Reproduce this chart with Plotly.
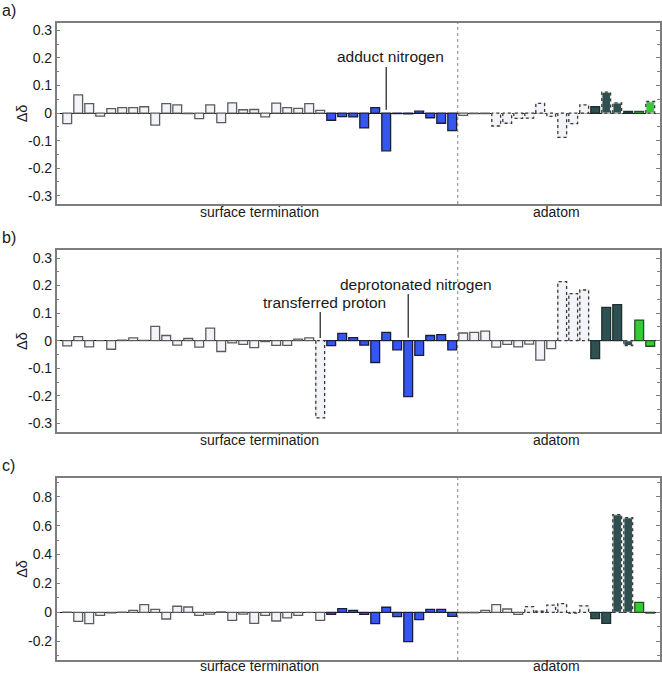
import plotly.graph_objects as go

W, H = 662, 677
N = 54
positions = list(range(N))

# category of each position (same in every panel)
groups = ["surface"] * 24 + ["molecule"] * 12 + ["adatom"] * 12 + ["adatom_dark"] * 4 + ["adatom_green"] * 2

a_vals = [-0.038, 0.066, 0.034, -0.011, 0.016, 0.020, 0.020, 0.023, -0.044, 0.034,
          0.030, -0.002, -0.020, 0.030, -0.035, 0.037, 0.012, 0.013, -0.014, 0.036,
          0.020, 0.017, 0.034, 0.010, -0.026, -0.013, -0.014, -0.054, 0.020, -0.137,
          -0.002, -0.003, 0.007, -0.017, -0.037, -0.064, -0.008, -0.002, -0.002, -0.047,
          -0.037, -0.019, -0.018, 0.035, -0.012, -0.088, -0.038, 0.030, 0.023, 0.076,
          0.037, 0.006, 0.006, 0.042]
b_vals = [-0.019, 0.015, -0.022, 0.000, -0.031, 0.002, 0.010, 0.001, 0.052, 0.019,
          -0.016, 0.008, -0.023, 0.046, -0.039, -0.008, -0.013, -0.025, -0.003, -0.017,
          -0.017, 0.006, 0.010, -0.280, -0.018, 0.027, 0.011, -0.016, -0.079, 0.030,
          -0.033, -0.203, -0.053, 0.019, 0.022, -0.033, 0.028, 0.030, 0.035, -0.023,
          -0.013, -0.022, -0.012, -0.070, -0.029, 0.214, 0.171, 0.184, -0.065, 0.121,
          0.131, -0.018, 0.075, -0.020]
c_vals = [0.002, -0.062, -0.078, -0.021, -0.004, 0.001, 0.014, 0.054, 0.021, -0.046,
          0.042, 0.037, -0.021, -0.012, 0.003, -0.055, -0.012, -0.076, -0.021, -0.060,
          -0.039, -0.021, 0.000, -0.055, -0.014, 0.025, 0.014, -0.014, -0.078, 0.035,
          -0.030, -0.203, -0.051, 0.021, 0.021, -0.028, -0.003, -0.003, 0.014, 0.053,
          0.023, -0.014, 0.040, 0.008, 0.050, 0.060, -0.005, 0.044, -0.044, -0.076,
          0.676, 0.655, 0.069, -0.005]

# positions drawn with dotted outline in each panel
a_dotted = [39, 40, 41, 42, 43, 44, 45, 46, 47, 49, 50, 53]
b_dotted = [23, 45, 46, 47, 51]
c_dotted = [42, 43, 44, 45, 46, 47, 50, 51]

ab_ticks = [0.3, 0.2, 0.1, 0, -0.1, -0.2, -0.3]
ab_ticktext = ["0.3", "0.2", "0.1", "0", "-0.1", "-0.2", "-0.3"]
ab_minor = [0.25, 0.15, 0.05, -0.05, -0.15, -0.25]
c_ticks = [0.8, 0.6, 0.4, 0.2, 0, -0.2]
c_ticktext = ["0.8", "0.6", "0.4", "0.2", "0", "-0.2"]
c_minor = [0.9, 0.7, 0.5, 0.3, 0.1, -0.1, -0.3]

region_labels = ["surface termination", "adatom"]
panel_letters = ["a)", "b)", "c)"]
callouts = {0: [("adduct nitrogen", 29)],
            1: [("transferred proton", 23), ("deprotonated nitrogen", 31)],
            2: []}

FILL = {"surface": "#f3f4f9", "molecule": "#3457f2", "adatom": "#f3f4f9",
        "adatom_dark": "#2f5050", "adatom_green": "#33cc33"}
EDGE = {"surface": "#5c5c5c", "molecule": "#1c1c3a", "adatom": "#5c5c5c",
        "adatom_dark": "#1e3030", "adatom_green": "#2a4a2a"}
FONT = "Liberation Sans, Arial, sans-serif"
FRAME = "#7d7d7d"

def px(x):
    return x / W

def py(y):
    return 1 - y / H

# pixel boxes of the three plot areas (left, right, top, bottom)
boxes = [(56.7, 660, 22.7, 204), (56.7, 660, 250, 432), (56.7, 660, 477.7, 660)]
label_bottoms = [222, 450, 676]
panels = [
    dict(vals=a_vals, dotted=a_dotted, yr=[-0.33, 0.328], tv=ab_ticks, tt=ab_ticktext, mv=ab_minor,
         lead={29: (0.012, 0.167)}, text_xy=[(390.5, 56)]),
    dict(vals=b_vals, dotted=b_dotted, yr=[-0.331, 0.329], tv=ab_ticks, tt=ab_ticktext, mv=ab_minor,
         lead={23: (0.010, 0.104), 31: (0.011, 0.169)}, text_xy=[(324, 302), (415.5, 284)]),
    dict(vals=c_vals, dotted=c_dotted, yr=[-0.33, 0.932], tv=c_ticks, tt=c_ticktext, mv=c_minor,
         lead={}, text_xy=[]),
]

fig = go.Figure()
shapes = []
annotations = []
layout = dict(width=W, height=H, margin=dict(l=0, r=0, t=0, b=0), paper_bgcolor="white",
              plot_bgcolor="white", showlegend=False, barmode="overlay",
              font=dict(family=FONT, color="#1a1a1a"))

BW = 0.8
for k, p in enumerate(panels):
    sfx = "" if k == 0 else str(k + 1)
    xa, ya = "x" + sfx, "y" + sfx
    vals = p["vals"]
    solid = [i for i in positions if i not in p["dotted"]]
    dot = [i for i in positions if i in p["dotted"]]
    fig.add_trace(go.Bar(x=solid, y=[vals[i] for i in solid], width=BW, xaxis=xa, yaxis=ya,
                         marker=dict(color=[FILL[groups[i]] for i in solid],
                                     line=dict(color=[EDGE[groups[i]] for i in solid], width=1.3)),
                         hoverinfo="x+y"))
    fig.add_trace(go.Bar(x=dot, y=[vals[i] for i in dot], width=BW, xaxis=xa, yaxis=ya,
                         marker=dict(color=[FILL[groups[i]] for i in dot], line=dict(width=0)),
                         hoverinfo="x+y"))
    ox, oy = [], []
    for i in dot:
        ox += [i - BW / 2, i - BW / 2, i + BW / 2, i + BW / 2, i - BW / 2, None]
        oy += [0, vals[i], vals[i], 0, 0, None]
    fig.add_trace(go.Scatter(x=ox, y=oy, mode="lines", xaxis=xa, yaxis=ya, hoverinfo="skip",
                             line=dict(color="#e8e8e8", width=1.3)))
    fig.add_trace(go.Scatter(x=ox, y=oy, mode="lines", xaxis=xa, yaxis=ya, hoverinfo="skip",
                             line=dict(color="#3a3a3a", width=1.3, dash="dot")))

    l, r, t, b = boxes[k]
    layout["xaxis" + sfx] = dict(domain=[px(l), px(r)], anchor=ya, range=[-0.955, 53.89],
                                 showticklabels=False, ticks="", showgrid=False, zeroline=False,
                                 showline=True, mirror=True, linecolor=FRAME, linewidth=1.5,
                                 fixedrange=True)
    layout["yaxis" + sfx] = dict(domain=[py(b), py(t)], anchor=xa, range=p["yr"],
                                 tickmode="array", tickvals=p["tv"], ticktext=p["tt"],
                                 ticks="inside", ticklen=4, tickwidth=1, tickcolor=FRAME,
                                 minor=dict(tickmode="array", tickvals=p["mv"], ticks="inside",
                                            ticklen=3, tickwidth=1, tickcolor=FRAME),
                                 showline=True, mirror="ticks", linecolor=FRAME, linewidth=1.5,
                                 showgrid=False, zeroline=True, zerolinecolor="#111111",
                                 zerolinewidth=1.2, tickfont=dict(size=14, color="#1a1a1a"),
                                 fixedrange=True)
    # divider between surface termination and adatom region
    shapes.append(dict(type="line", xref=xa, yref=ya + " domain", x0=35.5, x1=35.5, y0=0, y1=1,
                       line=dict(color="#9a9a9a", width=1.2, dash="dot"), layer="below"))
    # callouts
    for (txt, pos), (tx, ty) in zip(callouts[k], p["text_xy"]):
        y0, y1 = p["lead"][pos]
        shapes.append(dict(type="line", xref=xa, yref=ya, x0=pos, x1=pos, y0=y0, y1=y1,
                           line=dict(color="#1a1a1a", width=1.2)))
        annotations.append(dict(text=txt, xref="paper", yref="paper", x=px(tx), y=py(ty),
                                xanchor="center", yanchor="middle", showarrow=False,
                                font=dict(size=15.5, color="#1a1a1a")))
    # panel letter
    annotations.append(dict(text=panel_letters[k], xref="paper", yref="paper", x=px(0), y=py(t - 12.5),
                            xanchor="left", yanchor="middle", showarrow=False,
                            font=dict(size=16, color="#1a1a1a")))
    # y title
    annotations.append(dict(text="Δδ", xref="paper", yref="paper", x=px(22), y=py((t + b) / 2),
                            xanchor="center", yanchor="middle", showarrow=False, textangle=-90,
                            font=dict(size=14.5, color="#1a1a1a")))
    # region labels under the plot
    for lab, cx in zip(region_labels, [259, 556]):
        annotations.append(dict(text=lab, xref="paper", yref="paper", x=px(cx), y=py(label_bottoms[k]),
                                xanchor="center", yanchor="bottom", showarrow=False,
                                font=dict(size=14, color="#1a1a1a")))

layout["shapes"] = shapes
layout["annotations"] = annotations
fig.update_layout(**layout)
fig.write_html("out.html", config={"displayModeBar": False},
               post_script="document.body.style.margin='0px';document.body.style.overflow='hidden';")
